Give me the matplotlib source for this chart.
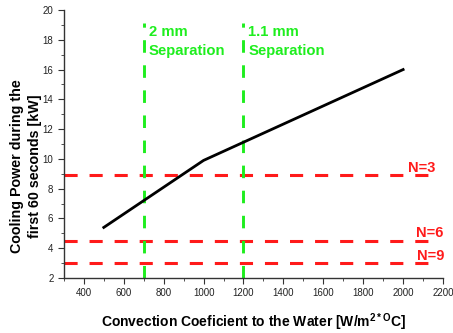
import matplotlib
matplotlib.use("Agg")
import matplotlib.pyplot as plt
from matplotlib.ticker import MultipleLocator

plt.rcParams["font.family"] = ["Liberation Sans", "DejaVu Sans"]
plt.rcParams["mathtext.fontset"] = "custom"
plt.rcParams["mathtext.rm"] = "Liberation Sans"
plt.rcParams["mathtext.bf"] = "Liberation Sans:bold"

# cooling power vs. convection coefficient
h_conv = [500, 1000, 2000]
power_kw = [5.4, 9.9, 16.0]

# required power for N units (horizontal reference lines)
n_labels = ["N=3", "N=6", "N=9"]
n_levels = [8.9, 4.5, 3.0]
n_label_x = [2024, 2064, 2069]
n_line_end = 2125

# separation thresholds (vertical reference lines)
sep_x = [700, 1200]
sep_labels = ["2 mm\nSeparation", "1.1 mm\nSeparation"]

RED = "#ff1a1a"
GREEN = "#1eee1e"

fig = plt.figure(figsize=(4.53, 3.33), dpi=100)
ax = fig.add_axes([0.141, 0.165, 0.837, 0.805])

for lvl, lx, lab in zip(n_levels, n_label_x, n_labels):
    ax.plot([300, n_line_end], [lvl, lvl], color=RED, lw=2.2, dashes=(4.3, 3.9), zorder=2)
    ax.annotate(lab, (lx, lvl), xytext=(0, 2.5), textcoords="offset points",
                color=RED, fontsize=10.5, fontweight="bold",
                ha="left", va="baseline", annotation_clip=False)

for x, lab in zip(sep_x, sep_labels):
    ax.plot([x, x], [2, 19.15], color=GREEN, lw=2.1, dashes=(4.3, 4.3), zorder=2)
    ax.text(x + 25, 19.0, lab, color=GREEN, fontsize=10.7, fontweight="bold",
            ha="left", va="top", linespacing=1.5)

ax.plot(h_conv, power_kw, color="black", lw=2, zorder=3)

ax.set_xlim(300, 2200)
ax.set_ylim(2, 20)
ax.xaxis.set_major_locator(MultipleLocator(200))
ax.xaxis.set_minor_locator(MultipleLocator(100))
ax.yaxis.set_major_locator(MultipleLocator(2))
ax.yaxis.set_minor_locator(MultipleLocator(1))
ax.set_xticks(range(400, 2201, 200))
for s in ["top", "right"]:
    ax.spines[s].set_visible(False)
for s in ["left", "bottom"]:
    ax.spines[s].set_color("#333333")
    ax.spines[s].set_linewidth(1.0)
ax.tick_params(which="both", direction="out", colors="#333333", labelsize=7,
               labelcolor="#222222")
ax.tick_params(which="major", length=4)
ax.tick_params(which="minor", length=2.5)

ax.set_xlabel(r"Convection Coeficient to the Water [W/m$^{\mathbf{2*O}}$C]",
              fontsize=10, fontweight="bold", labelpad=9)
ax.set_ylabel("Cooling Power during the\nfirst 60 seconds [kW]",
              fontsize=10.3, fontweight="bold", linespacing=1.35)
ax.yaxis.set_label_coords(-0.058, 0.418)

fig.savefig("out.png", dpi=100)
